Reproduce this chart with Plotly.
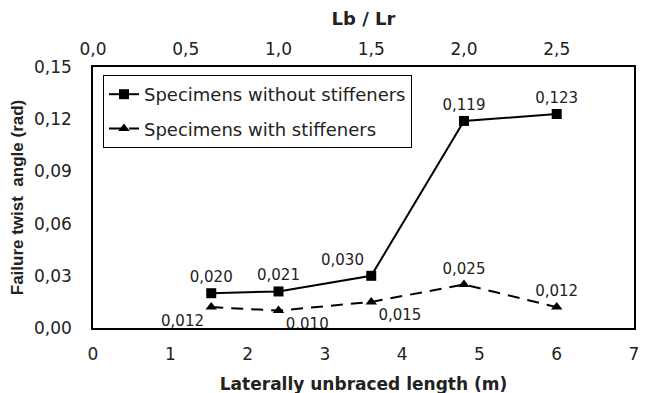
import plotly.graph_objects as go

# Data
length_m = [1.53, 2.4, 3.6, 4.8, 6.0]
lb_lr = [0.64, 1.0, 1.5, 2.0, 2.5]
twist_without = [0.020, 0.021, 0.030, 0.119, 0.123]
twist_with = [0.012, 0.010, 0.015, 0.025, 0.012]
pos_without = ["top center", "top center", "top left", "top center", "top center"]
pos_with = ["bottom left", "bottom right", "bottom right", "top center", "top center"]
y_ticks = [0.00, 0.03, 0.06, 0.09, 0.12, 0.15]
x_ticks = [0, 1, 2, 3, 4, 5, 6, 7]
top_ticks = [0.0, 0.5, 1.0, 1.5, 2.0, 2.5]

FONT = "DejaVu Sans, sans-serif"
NARROW = "Liberation Sans, Arial, sans-serif"

# page body has an 8px default margin; margins below compensate for it
L, R, T, B = 85, 24, 59, 73
PW = 650 - L - R
PH = 393 - T - B

fig = go.Figure()
fig.add_trace(go.Scatter(
    x=length_m, y=twist_without, name="Specimens without stiffeners",
    legendgroup="a",
    mode="lines+markers+text",
    line=dict(color="black", width=2),
    marker=dict(symbol="square", size=10, color="black"),
    texttemplate="%{y:.3f}", textposition=pos_without,
    textfont=dict(size=15, color="#222", family=FONT),
))
fig.add_trace(go.Scatter(
    x=length_m, y=twist_with, name="Specimens with stiffeners",
    legendgroup="b",
    mode="lines+markers+text",
    line=dict(color="black", width=2, dash="12px,8px"),
    marker=dict(symbol="triangle-up", size=10, color="black"),
    texttemplate="%{y:.3f}", textposition=pos_with,
    textfont=dict(size=15, color="#222", family=FONT),
))
# invisible trace anchoring the secondary (top) axis
fig.add_trace(go.Scatter(
    x=lb_lr, y=twist_without, xaxis="x2", mode="markers",
    marker=dict(opacity=0), showlegend=False, hoverinfo="skip",
))

fig.update_layout(
    width=650, height=393,
    margin=dict(l=L, r=R, t=T, b=B),
    paper_bgcolor="white", plot_bgcolor="white",
    separators=",.",
    font=dict(family=FONT, size=17, color="#222"),
    showlegend=True,
    legend=dict(
        x=(103 - 93) / PW, y=(328 - 75) / PH, xanchor="left", yanchor="top",
        bgcolor="white", bordercolor="black", borderwidth=1,
        font=dict(size=18, family=FONT, color="#222"),
        tracegroupgap=8,
    ),
    xaxis=dict(
        range=[0, 7], tickvals=x_ticks, ticks="", showgrid=False, zeroline=False,
        showline=True, linecolor="black", linewidth=1.5, mirror=True,
        automargin=False, ticklabelstandoff=10,
        title=dict(text="<b>Laterally unbraced length (m)</b>",
                   font=dict(size=17, family=FONT)),
        tickfont=dict(size=17),
    ),
    xaxis2=dict(
        overlaying="x", side="top", range=[0, 7 / 2.4], tickvals=top_ticks,
        tickformat=".1f", ticks="", showgrid=False, zeroline=False, showline=False,
        automargin=False, ticklabelstandoff=8,
        title=dict(text="<b>Lb / Lr</b>", font=dict(size=18, family=FONT)),
        tickfont=dict(size=17),
    ),
    yaxis=dict(
        range=[0, 0.15], tickvals=y_ticks, tickformat=".2f", ticks="",
        showgrid=False, zeroline=False,
        showline=True, linecolor="black", linewidth=1.5, mirror=True,
        automargin=False, ticklabelstandoff=16,
        title=dict(text="<b>Failure twist  angle (rad)</b>",
                   font=dict(size=17, family=NARROW)),
        tickfont=dict(size=17),
    ),
    shapes=[dict(type="line", xref="paper", yref="paper",
                 x0=(3 - 93) / PW, x1=(3 - 93) / PW,
                 y0=(328 - 393) / PH, y1=(328 - 0) / PH,
                 line=dict(color="#d9d9d9", width=1), layer="below")],
)

fig.write_html("out.html")
